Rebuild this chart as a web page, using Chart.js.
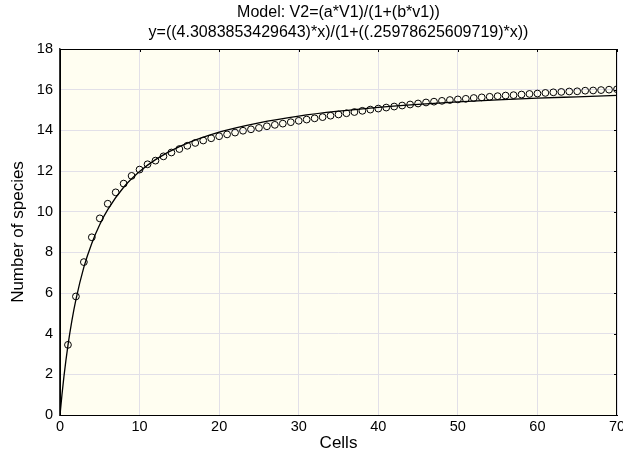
<!DOCTYPE html>
<html>
<head>
<meta charset="utf-8">
<script src="https://cdn.jsdelivr.net/npm/chart.js@4/dist/chart.umd.min.js"></script>
<style>
html,body{margin:0;padding:0;background:#fff;}
#wrap{width:623px;height:454px;}
</style>
</head>
<body>
<div id="wrap"><canvas id="c" width="623" height="454"></canvas></div>
<script>
// Observed points: cells 1..70
const cells = [1,2,3,4,5,6,7,8,9,10,11,12,13,14,15,16,17,18,19,20,21,22,23,24,25,26,27,28,29,30,31,32,33,34,35,36,37,38,39,40,41,42,43,44,45,46,47,48,49,50,51,52,53,54,55,56,57,58,59,60,61,62,63,64,65,66,67,68,69,70];
const species = [3.45,5.83,7.52,8.74,9.67,10.39,10.95,11.38,11.76,12.07,12.33,12.51,12.72,12.91,13.08,13.24,13.38,13.50,13.61,13.71,13.80,13.89,13.98,14.05,14.12,14.20,14.27,14.33,14.40,14.47,14.53,14.59,14.65,14.72,14.78,14.84,14.90,14.96,15.02,15.07,15.12,15.17,15.22,15.27,15.32,15.37,15.41,15.45,15.49,15.52,15.55,15.59,15.62,15.65,15.68,15.71,15.73,15.76,15.79,15.81,15.84,15.87,15.89,15.91,15.92,15.95,15.96,15.98,16.00,16.02];
// Fitted curve
const fitX = [0,0.25,0.5,1,1.5,2,3,4,5,6,8,10,12,15,20,25,30,35,40,45,50,55,60,65,70];
const fitY = [0,1.01,1.91,3.42,4.65,5.67,7.27,8.45,9.37,10.10,11.20,11.97,12.56,13.20,13.91,14.37,14.70,14.94,15.13,15.28,15.40,15.50,15.58,15.65,15.72];
const xTicks = [0,10,20,30,40,50,60,70];
const yTicks = [0,2,4,6,8,10,12,14,16,18];
const titleLines = ["Model: V2=(a*V1)/(1+(b*v1))", "y=((4.3083853429643)*x)/(1+((.25978625609719)*x))"];
const xTitle = "Cells";
const yTitle = "Number of species";

const FONT = "'Liberation Sans', Arial, Helvetica, sans-serif";

const bgPlugin = {
  id: 'bg',
  beforeDraw(chart) {
    const {ctx, chartArea: a} = chart;
    ctx.save();
    ctx.fillStyle = '#fffef1';
    ctx.fillRect(a.left, a.top, a.right - a.left, a.bottom - a.top);
    ctx.restore();
  },
  afterDraw(chart) {
    const {ctx, chartArea: a} = chart;
    const xs = chart.scales.x, ys = chart.scales.y;
    ctx.save();
    ctx.strokeStyle = '#000';
    ctx.lineWidth = 1;
    ctx.strokeRect(Math.round(a.left) + 0.5, Math.round(a.top) + 0.5, Math.round(a.right - a.left) - 1, Math.round(a.bottom - a.top));
    ctx.beginPath();
    xTicks.forEach(v => {
      const px = Math.round(xs.getPixelForValue(v)) + 0.5;
      ctx.moveTo(px, a.top); ctx.lineTo(px, a.top + 3);
    });
    yTicks.forEach(v => {
      const py = Math.round(ys.getPixelForValue(v)) + 0.5;
      ctx.moveTo(a.right, py); ctx.lineTo(a.right - 3, py);
    });
    ctx.stroke();
    ctx.fillStyle = '#000';
    ctx.font = '16px ' + FONT;
    ctx.textAlign = 'center';
    ctx.textBaseline = 'middle';
    const cx = (a.left + a.right) / 2;
    ctx.fillText(titleLines[0], cx, 13);
    ctx.fillText(titleLines[1], cx, 33);
    ctx.restore();
  }
};

new Chart(document.getElementById('c'), {
  type: 'scatter',
  data: {
    datasets: [
      {
        label: 'fit',
        data: fitX.map((x, i) => ({x, y: fitY[i]})),
        showLine: true,
        pointRadius: 0,
        borderColor: '#000',
        borderWidth: 1.3,
        cubicInterpolationMode: 'monotone',
        fill: false
      },
      {
        label: 'observed',
        data: cells.map((x, i) => ({x, y: species[i]})),
        showLine: false,
        pointStyle: 'circle',
        pointRadius: 3.4,
        pointBorderWidth: 1,
        pointBorderColor: '#000',
        pointBackgroundColor: 'rgba(0,0,0,0)'
      }
    ]
  },
  options: {
    responsive: false,
    animation: false,
    devicePixelRatio: 1,
    layout: { padding: { top: 49, right: 6, left: 0, bottom: 0 } },
    plugins: { legend: { display: false }, tooltip: { enabled: false }, title: { display: false } },
    scales: {
      x: {
        type: 'linear', min: 0, max: 70,
        afterBuildTicks: s => { s.ticks = xTicks.map(v => ({value: v})); },
        afterFit: s => { s.height = 39; s.paddingRight = 0; s.paddingLeft = 0; },
        ticks: { color: '#000', font: { size: 14.5, family: FONT }, padding: 3, maxRotation: 0 },
        grid: { color: '#e2e0e8', lineWidth: 1, drawTicks: false },
        border: { display: true, color: '#000', width: 1 },
        title: { display: true, text: xTitle, color: '#000', font: { size: 17, family: FONT }, padding: { top: 0, bottom: 0 } }
      },
      y: {
        type: 'linear', min: 0, max: 18,
        afterBuildTicks: s => { s.ticks = yTicks.map(v => ({value: v})); },
        afterFit: s => { s.width = 60; },
        ticks: { color: '#000', font: { size: 14.5, family: FONT }, padding: 7 },
        grid: { color: '#e2e0e8', lineWidth: 1, drawTicks: false },
        border: { display: true, color: '#333', width: 1.5 },
        title: { display: true, text: yTitle, color: '#000', font: { size: 17, family: FONT }, padding: { top: 8, bottom: 0 } }
      }
    }
  },
  plugins: [bgPlugin]
});
</script>
</body>
</html>
